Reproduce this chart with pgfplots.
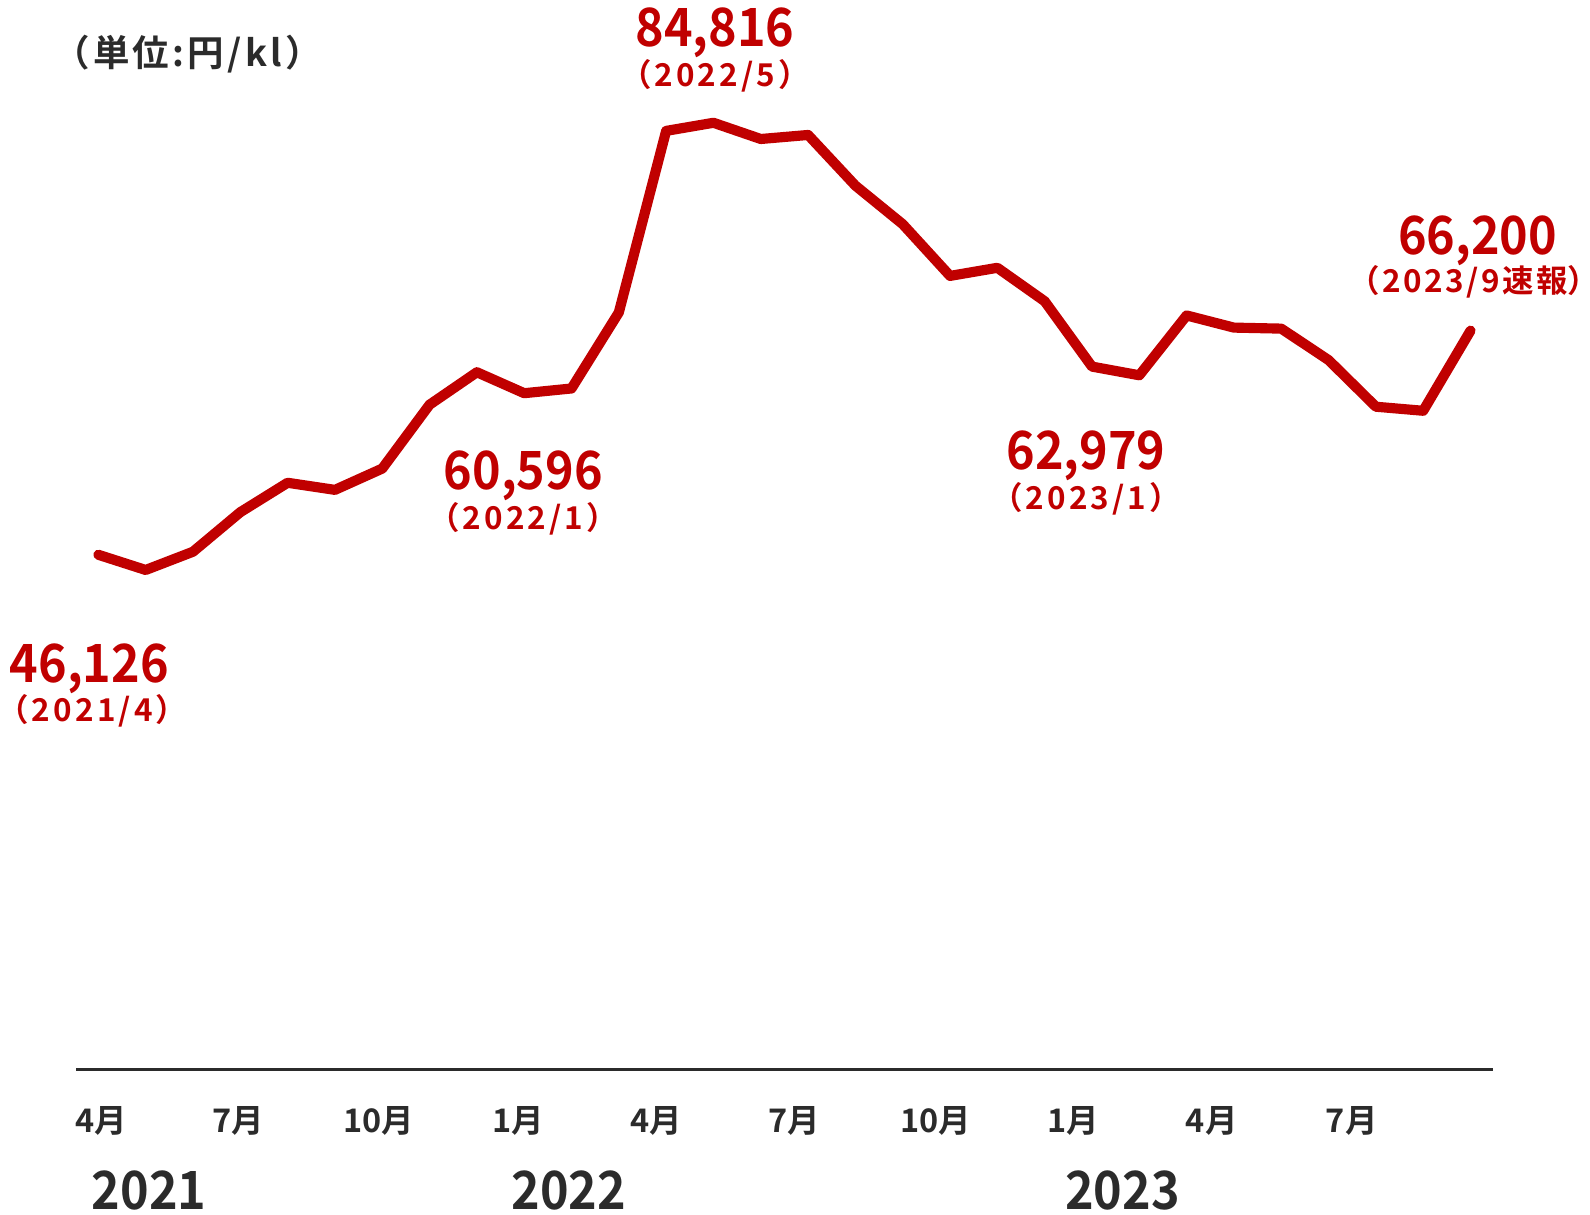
\documentclass[border=0pt]{standalone}
\usepackage{pgfplots}
\pgfplotsset{compat=1.18}
\usepackage{fontspec}
\setmainfont{Noto Sans CJK JP}[BoldFont={* Bold}]
\definecolor{myred}{HTML}{C00000}
\definecolor{mygray}{HTML}{2B2B2B}
\begin{document}
\begin{tikzpicture}
\useasboundingbox (-37.5pt,-71.5pt) rectangle (746.5pt,527.5pt);
\begin{axis}[at={(0pt,0pt)}, anchor=south west, scale only axis,
  width=698.5pt, height=495.5pt,
  xmin=-0.4715, xmax=29.468, ymin=0, ymax=90000,
  axis y line=none, axis x line*=bottom,
  x axis line style={-, line width=1.3pt, color=mygray},
  ytick=\empty,
  xtick={0.064,2.96,5.92,8.87,11.79,14.70,17.70,20.60,23.53,26.49},
  xticklabels={4月,7月,10月,1月,4月,7月,10月,1月,4月,7月},
  major tick length=0pt,
  xticklabel style={anchor=center, yshift=-25pt, font=\fontsize{16}{16}\selectfont\bfseries, text=mygray},
  clip=false]
\addplot[myred, line width=5pt, line join=round, line cap=round] coordinates {
(0,46126) (1,44764) (2,46398) (3,49940) (4,52574) (5,51938) (6,53846) (7,59567)
(8,62474) (9,60596) (10,61020) (11,67832) (12,84089) (13,84816) (14,83362)
(15,83725) (16,79184) (17,75733) (18,71101) (19,71828) (20,68831) (21,62979)
(22,62201) (23,67560) (24,66470) (25,66380) (26,63563) (27,59386) (28,59022) (29,66200)};
\end{axis}
\tikzset{big/.style={anchor=base, inner sep=0pt, text=myred, xscale=0.92, font=\fontsize{26}{26}\selectfont\bfseries},
  small/.style={anchor=base, inner sep=0pt, text=myred, font=\fontsize{15.5}{15.5}\selectfont\bfseries\addfontfeatures{LetterSpace=10}}}
\node[big] at (315pt,504.5pt) {84,816};
\node[small] at (315pt,485pt) {（2022/5）};
\node[big] at (6.5pt,191pt) {46,126};
\node[small] at (8pt,171.5pt) {（2021/4）};
\node[big] at (220.5pt,286pt) {60,596};
\node[small] at (220.5pt,266.5pt) {（2022/1）};
\node[big] at (498pt,296pt) {62,979};
\node[small] at (498pt,276.5pt) {（2023/1）};
\node[big] at (691pt,402pt) {66,200};
\node[small, font=\fontsize{15.5}{15.5}\selectfont\bfseries\addfontfeatures{LetterSpace=8}] at (685pt,383.5pt) {（2023/9速報\makebox[0.45em][l]{）}};
\node[anchor=base, inner sep=0pt, text=mygray, font=\fontsize{18}{18}\selectfont\bfseries\addfontfeatures{LetterSpace=9}] at (55pt,494.5pt) {（単位:円/kl）};
\tikzset{yr/.style={anchor=base, inner sep=0pt, text=mygray, xscale=0.92, font=\fontsize{26}{26}\selectfont\bfseries}}
\node[yr] at (36pt,-69pt) {2021};
\node[yr] at (243pt,-69pt) {2022};
\node[yr] at (516pt,-69pt) {2023};
\end{tikzpicture}
\end{document}
